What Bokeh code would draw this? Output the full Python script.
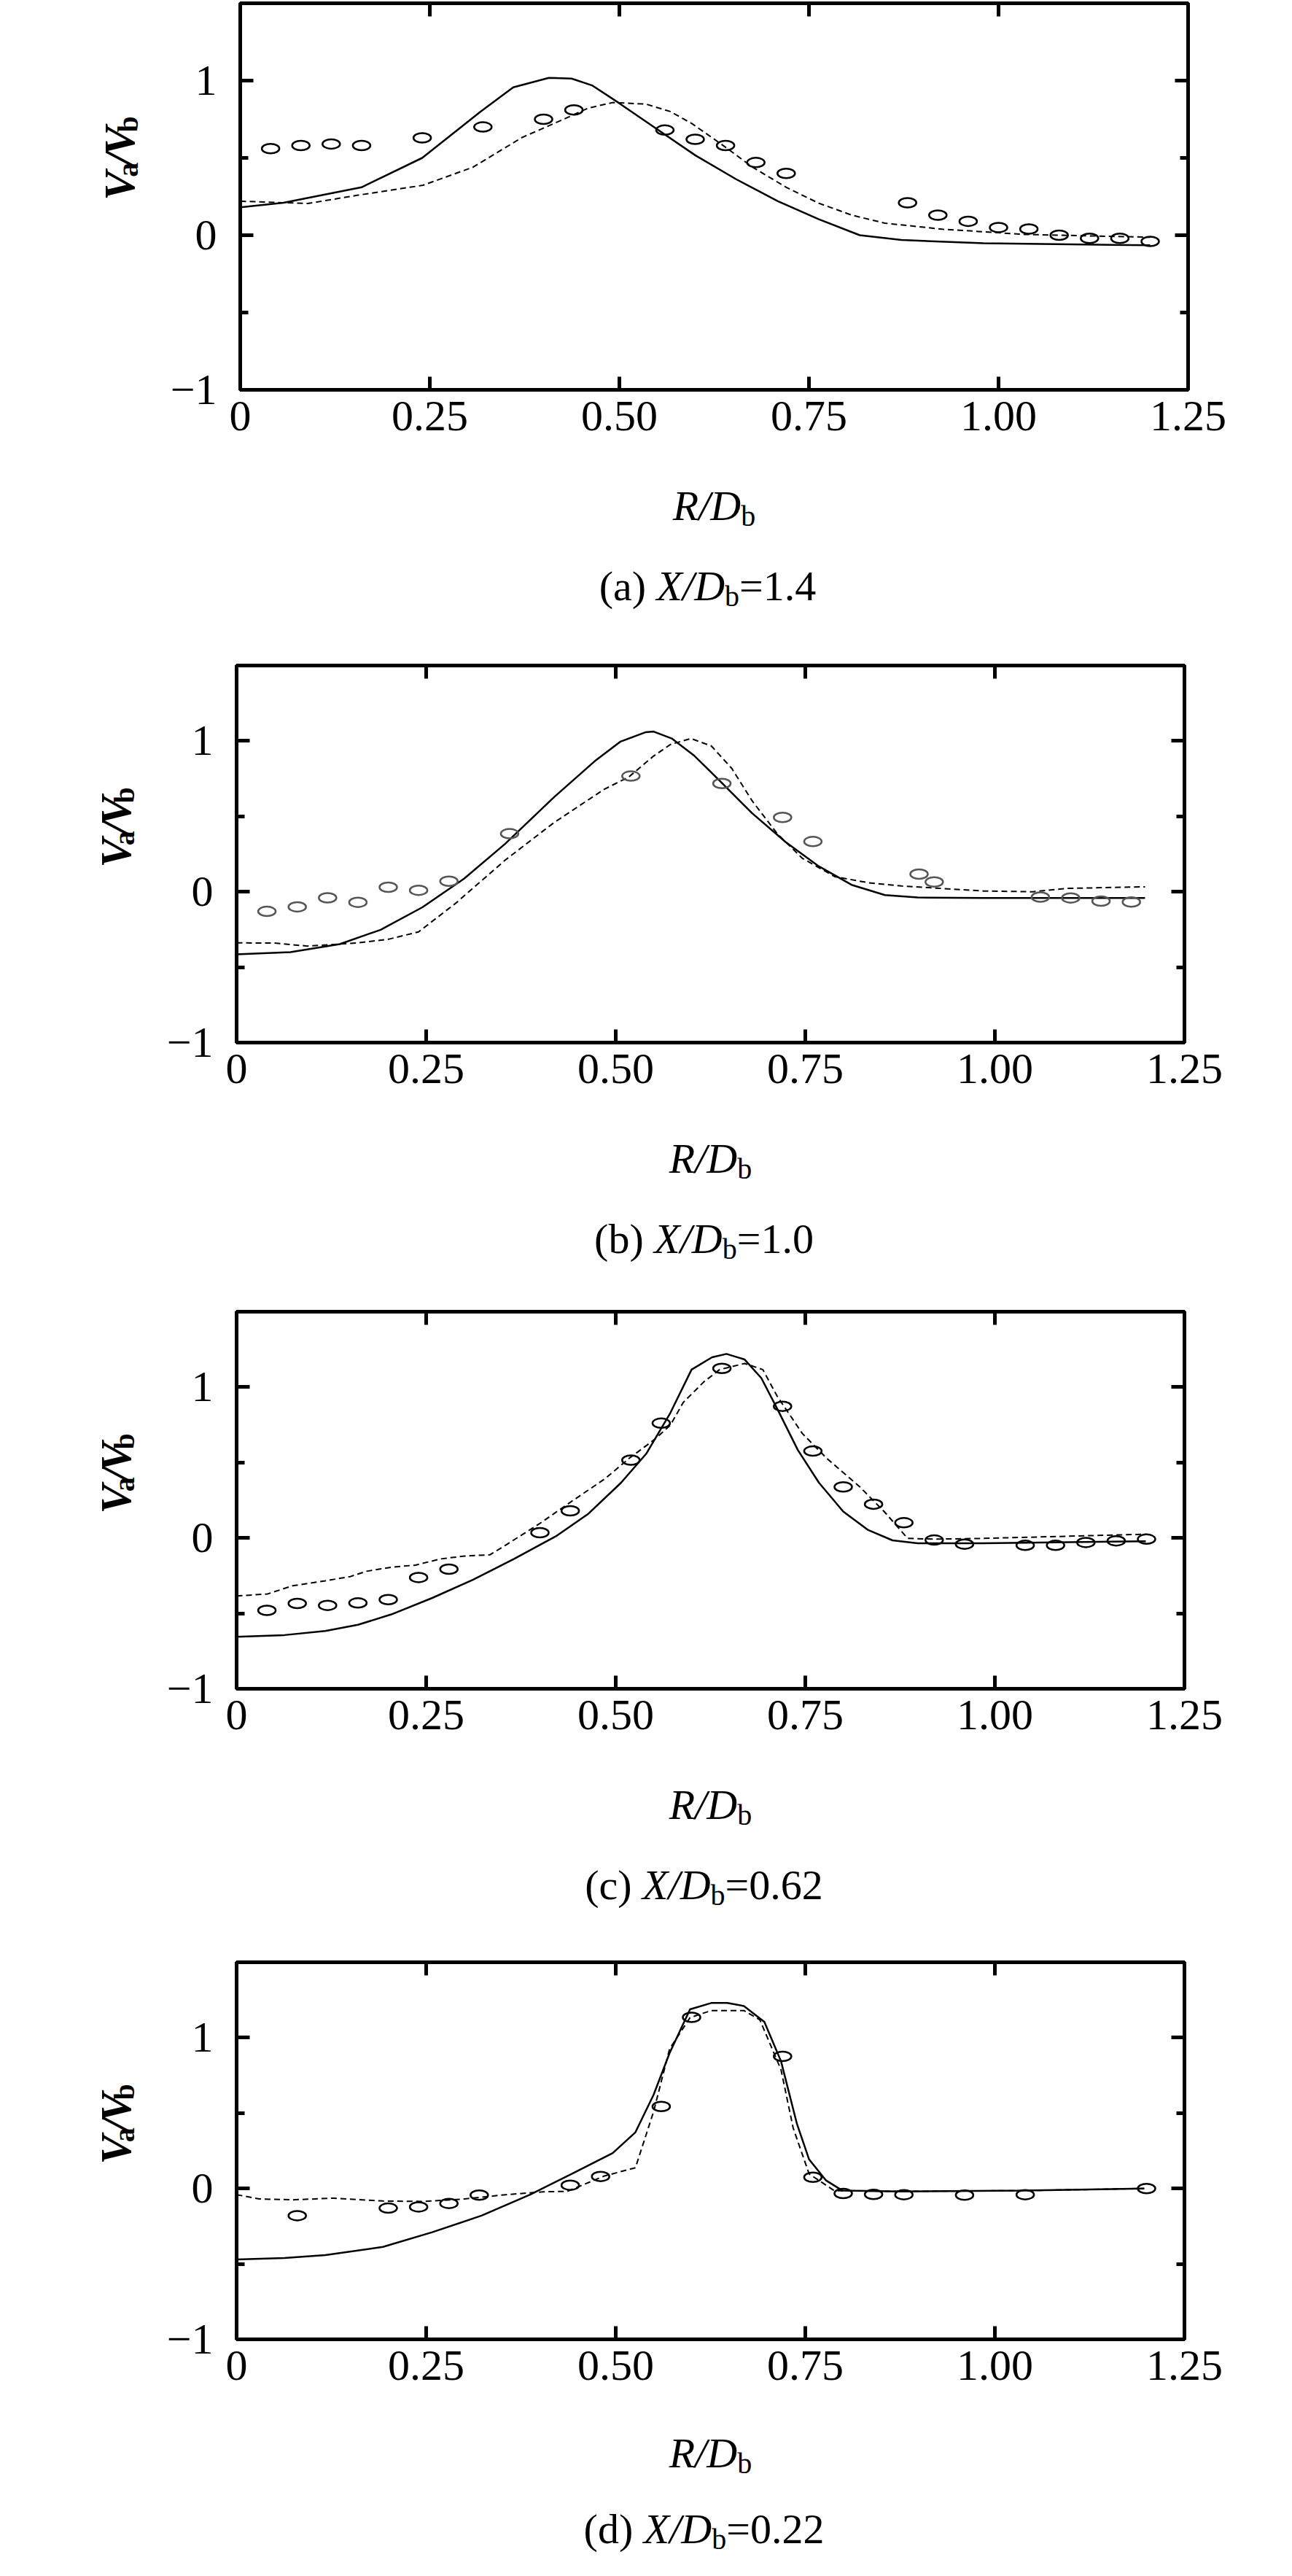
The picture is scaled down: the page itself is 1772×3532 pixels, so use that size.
from bokeh.plotting import figure
from bokeh.models import Range1d, FixedTicker, LinearAxis
from bokeh.layouts import column, row
from bokeh.core.properties import value
from bokeh.embed import file_html
from bokeh.resources import INLINE

# ---- data ----
x_ticks = [0, 0.25, 0.5, 0.75, 1.0, 1.25]
x_tick_labels = ["0", "0.25", "0.50", "0.75", "1.00", "1.25"]
y_ticks = [-1, 0, 1]
y_tick_labels = ["\u22121", "0", "1"]
captions = ["a", "b", "c", "d"]
x_over_db = ["1.4", "1.0", "0.62", "0.22"]

# (a) X/Db = 1.4
r_exp_a = [0.04, 0.08, 0.12, 0.16, 0.24, 0.32, 0.40, 0.44, 0.56, 0.60, 0.64, 0.68, 0.72,
           0.88, 0.92, 0.96, 1.00, 1.04, 1.08, 1.12, 1.16, 1.20]
v_exp_a = [0.56, 0.58, 0.59, 0.58, 0.63, 0.70, 0.75, 0.81, 0.68, 0.62, 0.58, 0.47, 0.40,
           0.21, 0.13, 0.09, 0.05, 0.04, 0.0, -0.02, -0.02, -0.04]
r_sol_a = [0, 0.057, 0.16, 0.24, 0.317, 0.36, 0.407, 0.437, 0.464, 0.50, 0.546, 0.60, 0.654,
           0.709, 0.763, 0.817, 0.872, 0.98, 1.20]
v_sol_a = [0.18, 0.21, 0.31, 0.50, 0.80, 0.956, 1.018, 1.013, 0.969, 0.853, 0.698, 0.517, 0.362,
           0.220, 0.103, 0.0, -0.031, -0.052, -0.065]
r_dash_a = [0, 0.089, 0.154, 0.241, 0.307, 0.372, 0.426, 0.459, 0.491, 0.535, 0.567, 0.595,
            0.633, 0.676, 0.72, 0.763, 0.807, 0.85, 0.926, 1.035, 1.2]
v_dash_a = [0.22, 0.205, 0.258, 0.323, 0.44, 0.633, 0.749, 0.822, 0.858, 0.848, 0.80, 0.724,
            0.594, 0.439, 0.31, 0.207, 0.129, 0.078, 0.039, 0.005, -0.013]

# (b) X/Db = 1.0
r_exp_b = [0.04, 0.08, 0.12, 0.16, 0.20, 0.24, 0.28, 0.36, 0.52, 0.64, 0.72, 0.76, 0.90,
           0.92, 1.06, 1.10, 1.14, 1.18]
v_exp_b = [-0.13, -0.10, -0.04, -0.07, 0.03, 0.01, 0.07, 0.385, 0.767, 0.718, 0.493, 0.333,
           0.117, 0.065, -0.035, -0.041, -0.062, -0.068]
r_sol_b = [0, 0.071, 0.136, 0.19, 0.245, 0.3, 0.354, 0.419, 0.474, 0.506, 0.539, 0.55, 0.574,
           0.604, 0.637, 0.68, 0.724, 0.768, 0.811, 0.855, 0.898, 0.985, 1.198]
v_sol_b = [-0.415, -0.40, -0.347, -0.252, -0.103, 0.087, 0.317, 0.629, 0.873, 0.995, 1.057,
           1.062, 1.016, 0.9, 0.737, 0.52, 0.33, 0.168, 0.046, -0.022, -0.038, -0.041, -0.041]
r_dash_b = [0, 0.049, 0.093, 0.158, 0.201, 0.24, 0.289, 0.354, 0.419, 0.485, 0.517, 0.55,
            0.572, 0.599, 0.626, 0.653, 0.68, 0.713, 0.746, 0.789, 0.833, 0.877, 0.985, 1.05,
            1.094, 1.198]
v_dash_b = [-0.339, -0.34, -0.36, -0.34, -0.314, -0.266, -0.076, 0.209, 0.46, 0.68, 0.76, 0.9,
            0.976, 1.016, 0.967, 0.818, 0.602, 0.385, 0.222, 0.1, 0.06, 0.038, 0.005, 0.0,
            0.022, 0.033]

# (c) X/Db = 0.62
r_exp_c = [0.04, 0.08, 0.12, 0.16, 0.20, 0.24, 0.28, 0.40, 0.44, 0.52, 0.56, 0.64, 0.72,
           0.76, 0.80, 0.84, 0.88, 0.92, 0.96, 1.04, 1.08, 1.12, 1.16, 1.20]
v_exp_c = [-0.48, -0.434, -0.447, -0.431, -0.409, -0.262, -0.207, 0.035, 0.18, 0.516, 0.761,
           1.124, 0.873, 0.576, 0.338, 0.224, 0.101, -0.014, -0.041, -0.049, -0.049, -0.03,
           -0.019, -0.008]
r_sol_c = [0, 0.063, 0.117, 0.16, 0.204, 0.258, 0.312, 0.366, 0.421, 0.464, 0.507, 0.54,
           0.572, 0.6, 0.627, 0.646, 0.67, 0.692, 0.713, 0.74, 0.768, 0.8, 0.833, 0.865,
           0.898, 0.984, 1.199]
v_sol_c = [-0.655, -0.644, -0.617, -0.576, -0.507, -0.398, -0.276, -0.139, 0.011, 0.161,
           0.366, 0.557, 0.829, 1.116, 1.198, 1.22, 1.183, 1.06, 0.856, 0.584, 0.366, 0.175,
           0.052, -0.016, -0.035, -0.035, -0.022]
r_dash_c = [0, 0.041, 0.074, 0.117, 0.15, 0.171, 0.204, 0.236, 0.269, 0.301, 0.334, 0.356,
            0.399, 0.442, 0.486, 0.518, 0.551, 0.572, 0.589, 0.616, 0.637, 0.67, 0.694, 0.713,
            0.746, 0.778, 0.822, 0.854, 0.885, 0.919, 0.984, 1.093, 1.199]
v_dash_c = [-0.385, -0.371, -0.317, -0.284, -0.256, -0.221, -0.194, -0.18, -0.139, -0.12,
            -0.112, -0.044, 0.093, 0.243, 0.393, 0.529, 0.652, 0.748, 0.898, 1.034, 1.116,
            1.157, 1.116, 0.939, 0.693, 0.529, 0.338, 0.175, -0.003, -0.008, -0.003, 0.011,
            0.025]

# (d) X/Db = 0.22
r_exp_d = [0.08, 0.20, 0.24, 0.28, 0.32, 0.44, 0.48, 0.56, 0.60, 0.72, 0.76, 0.80, 0.84,
           0.88, 0.96, 1.04, 1.20]
v_exp_d = [-0.18, -0.13, -0.122, -0.099, -0.044, 0.022, 0.08, 0.544, 1.135, 0.876, 0.075,
           -0.033, -0.039, -0.041, -0.044, -0.041, 0.0]
r_sol_d = [0, 0.063, 0.117, 0.193, 0.258, 0.323, 0.387, 0.442, 0.496, 0.526, 0.55, 0.571,
           0.598, 0.626, 0.647, 0.669, 0.696, 0.718, 0.739, 0.755, 0.777, 0.799, 0.874,
           1.037, 1.197]
v_sol_d = [-0.47, -0.461, -0.442, -0.387, -0.29, -0.18, -0.041, 0.097, 0.235, 0.373, 0.622,
           0.898, 1.188, 1.23, 1.23, 1.21, 1.105, 0.843, 0.428, 0.193, 0.055, -0.014, -0.019,
           -0.014, 0.0]
r_dash_d = [0, 0.03, 0.074, 0.128, 0.193, 0.247, 0.301, 0.355, 0.404, 0.436, 0.485, 0.526,
            0.55, 0.571, 0.598, 0.626, 0.669, 0.69, 0.718, 0.734, 0.755, 0.788, 0.874, 1.037,
            1.197]
v_dash_d = [-0.041, -0.069, -0.075, -0.064, -0.083, -0.086, -0.069, -0.041, -0.022, -0.019,
            0.083, 0.138, 0.511, 0.925, 1.133, 1.18, 1.18, 1.119, 0.787, 0.401, 0.097, -0.014,
            -0.019, -0.014, 0.0]

FONT = "Liberation Serif"
FW = 1300      # frame width
TOTAL_W = 1740
YLAB_W = 220   # strip holding the rotated y title
TICK_B = 130   # border under the frame that holds the tick labels
LIFT = 12      # text glyphs land a little low in the caption strips

# Times / Liberation Serif advance widths (per 1000 em)
W = {
    "normal": {"(": 333, ")": 333, "a": 444, "b": 500, "c": 444, "d": 500, " ": 250,
               "=": 564, ".": 250},
    "italic": {"X": 611, "/": 278, "D": 722, "R": 611},
    "bold italic": {"V": 667, "/": 278},
    "bold": {"a": 500, "b": 556},
}


def tw(s, style, size):
    return sum(W[style].get(c, 500) for c in s) * size / 1000.0


def blank(w, h):
    f = figure(width=w, height=h, x_range=Range1d(0, w), y_range=Range1d(0, h),
               x_axis_type=None, y_axis_type=None, min_border=0, outline_line_color=None,
               title=None, output_backend="svg", toolbar_location=None,
               background_fill_color="white", border_fill_color="white")
    f.xgrid.visible = False
    f.ygrid.visible = False
    return f


def put(f, t, x, y, sz, st, angle=0.0):
    f.text(x=[x], y=[y], text=[t], angle=angle, text_font=value(FONT),
           text_font_size=f"{sz}px", text_font_style=st, text_color="black",
           text_align="left", text_baseline="alphabetic")


def rich_h(f, pieces, cx, base):
    total = sum(tw(t, st, sz) for t, sz, st, sh in pieces)
    x0 = cx - total / 2
    for t, sz, st, sh in pieces:
        put(f, t, x0, base - sh, sz, st)
        x0 += tw(t, st, sz)


def rich_v(f, pieces, bx, cy):
    total = sum(tw(t, st, sz) for t, sz, st, sh in pieces)
    y0 = cy - total / 2
    for t, sz, st, sh in pieces:
        put(f, t, bx + sh, y0, sz, st, angle=1.5707963)
        y0 += tw(t, st, sz)


def style_axis(ax, labels):
    ax.axis_line_width = 5
    ax.axis_line_color = "black"
    ax.major_tick_in = 18
    ax.major_tick_out = 0
    ax.major_tick_line_width = 5
    ax.minor_tick_in = 11
    ax.minor_tick_out = 0
    ax.minor_tick_line_width = 5
    ax.major_label_text_font = FONT
    if labels:
        ax.major_label_text_font_size = "60px"
        ax.major_label_text_color = "black"
    else:
        ax.major_label_text_font_size = "1px"
        ax.major_label_text_color = None
        ax.major_label_standoff = 0


def panel(i, r_exp, v_exp, r_sol, v_sol, r_dash, v_dash, fh, left, top, cap_h, exp_color,
          xlab_off=171, cap_off=281):
    main_w = TOTAL_W - YLAB_W
    main_h = top + fh + TICK_B
    p = figure(width=main_w, height=main_h, x_range=Range1d(0, 1.25),
               y_range=Range1d(-1, 1.5), min_border_left=left - YLAB_W,
               min_border_right=main_w - (left - YLAB_W) - FW, min_border_top=top,
               min_border_bottom=TICK_B, title=None, output_backend="svg",
               toolbar_location=None, background_fill_color="white",
               border_fill_color="white")
    p.xgrid.visible = False
    p.ygrid.visible = False
    p.outline_line_color = "black"
    p.outline_line_width = 5

    p.xaxis.ticker = FixedTicker(ticks=x_ticks)
    p.yaxis.ticker = FixedTicker(ticks=y_ticks, minor_ticks=[-0.5, 0.5])
    p.xaxis.major_label_overrides = dict(zip(x_ticks, x_tick_labels))
    p.yaxis.major_label_overrides = dict(zip(y_ticks, y_tick_labels))
    style_axis(p.xaxis[0], True)
    style_axis(p.yaxis[0], True)
    p.xaxis.major_label_standoff = 16
    p.yaxis.major_label_standoff = 32
    top_ax = LinearAxis(ticker=FixedTicker(ticks=x_ticks))
    right_ax = LinearAxis(ticker=FixedTicker(ticks=y_ticks, minor_ticks=[-0.5, 0.5]))
    style_axis(top_ax, False)
    style_axis(right_ax, False)
    p.add_layout(top_ax, "above")
    p.add_layout(right_ax, "right")

    p.line(r_sol, v_sol, line_color="black", line_width=2.5)
    p.line(r_dash, v_dash, line_color="black", line_width=2, line_dash="8 5")
    p.ellipse(r_exp, v_exp, width=24, height=13, width_units="screen",
              height_units="screen", fill_color=None, line_color=exp_color, line_width=2.5)

    # rotated y title  V_a / V_b  in a strip on the left
    ylab = blank(YLAB_W, main_h)
    rich_v(ylab, [("V", 60, "bold italic", 0), ("a", 40, "bold", 12),
                  ("/", 60, "bold italic", 0), ("V", 60, "bold italic", 0),
                  ("b", 40, "bold", 12)], left - 166, TICK_B + fh / 2)

    # x title and caption below
    cap = blank(TOTAL_W, cap_h)
    cx = left + FW / 2
    rich_h(cap, [("R/D", 58, "italic", 0), ("b", 40, "normal", 14)],
           cx, cap_h - (xlab_off - TICK_B) + LIFT)
    rich_h(cap, [("(" + captions[i] + ") ", 58, "normal", 0), ("X/D", 58, "italic", 0),
                 ("b", 40, "normal", 14), ("=" + x_over_db[i], 58, "normal", 0)],
           cx - 9, cap_h - (cap_off - TICK_B) + LIFT)
    return column(row(ylab, p), cap)


pa = panel(0, r_exp_a, v_exp_a, r_sol_a, v_sol_a, r_dash_a, v_dash_a, 530, 329, 4, 208, "black")
pb = panel(1, r_exp_b, v_exp_b, r_sol_b, v_sol_b, r_dash_b, v_dash_b, 517, 324, 40, 199, "#555555")
pc = panel(2, r_exp_c, v_exp_c, r_sol_c, v_sol_c, r_dash_c, v_dash_c, 517, 324, 40, 205, "black")
pd = panel(3, r_exp_d, v_exp_d, r_sol_d, v_sol_d, r_dash_d, v_dash_d, 517, 324, 40, 174, "black",
           xlab_off=168, cap_off=272)

p = column(pa, pb, pc, pd)
open("out.html", "w").write(file_html(p, INLINE))
